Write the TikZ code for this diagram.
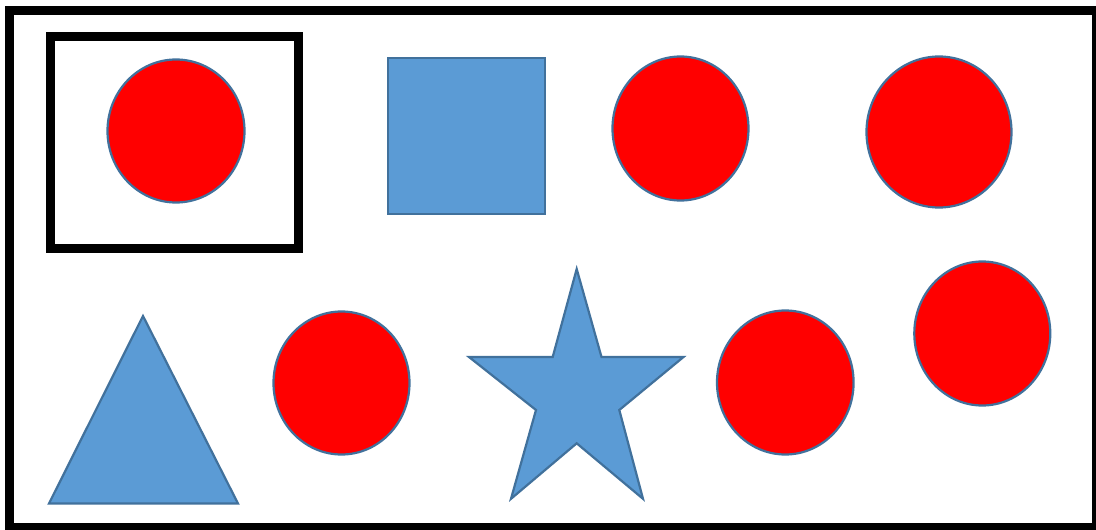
\documentclass[tikz,border=0pt]{standalone}
\begin{document}
\begin{tikzpicture}[x=1pt,y=-1pt,
  redshape/.style={fill=red,draw={rgb,255:red,65;green,113;blue,156},line width=2.2pt},
  blueshape/.style={fill={rgb,255:red,91;green,155;blue,213},draw={rgb,255:red,65;green,113;blue,156},line width=2.2pt,line join=miter},
  frame/.style={draw=black,line width=9pt},
  selbox/.style={draw=black,line width=8.5pt}]
\useasboundingbox (0,0) rectangle (1096,530);
\clip (0,0) rectangle (1096,530);
\fill[white] (0,0) rectangle (1096,530);
\draw[frame] (9.5,10) rectangle (1096,527.5);
\draw[selbox] (50.5,36.5) rectangle (298.5,248.5);
% top row
\draw[redshape] (176,131) ellipse [x radius=68.5, y radius=71.5];
\draw[blueshape] (388,58) rectangle (545,214);
\draw[redshape] (680.5,128.5) ellipse [x radius=68, y radius=72];
\draw[redshape] (939,132) ellipse [x radius=72.5, y radius=75.5];
% bottom row
\draw[blueshape] (143,316) -- (238,503.5) -- (49,503.5) -- cycle;
\draw[redshape] (341.5,383) ellipse [x radius=68, y radius=71.5];
\draw[blueshape] (576.7,269) -- (601.5,357) -- (683.5,357) -- (619.3,410) -- (643,498.8)
  -- (576.7,443.3) -- (511,498.8) -- (536,410) -- (469,357) -- (552.7,357) -- cycle;
\draw[redshape] (785.3,382.5) ellipse [x radius=68.3, y radius=72];
\draw[redshape] (982.3,333.5) ellipse [x radius=68, y radius=72];
\end{tikzpicture}
\end{document}
